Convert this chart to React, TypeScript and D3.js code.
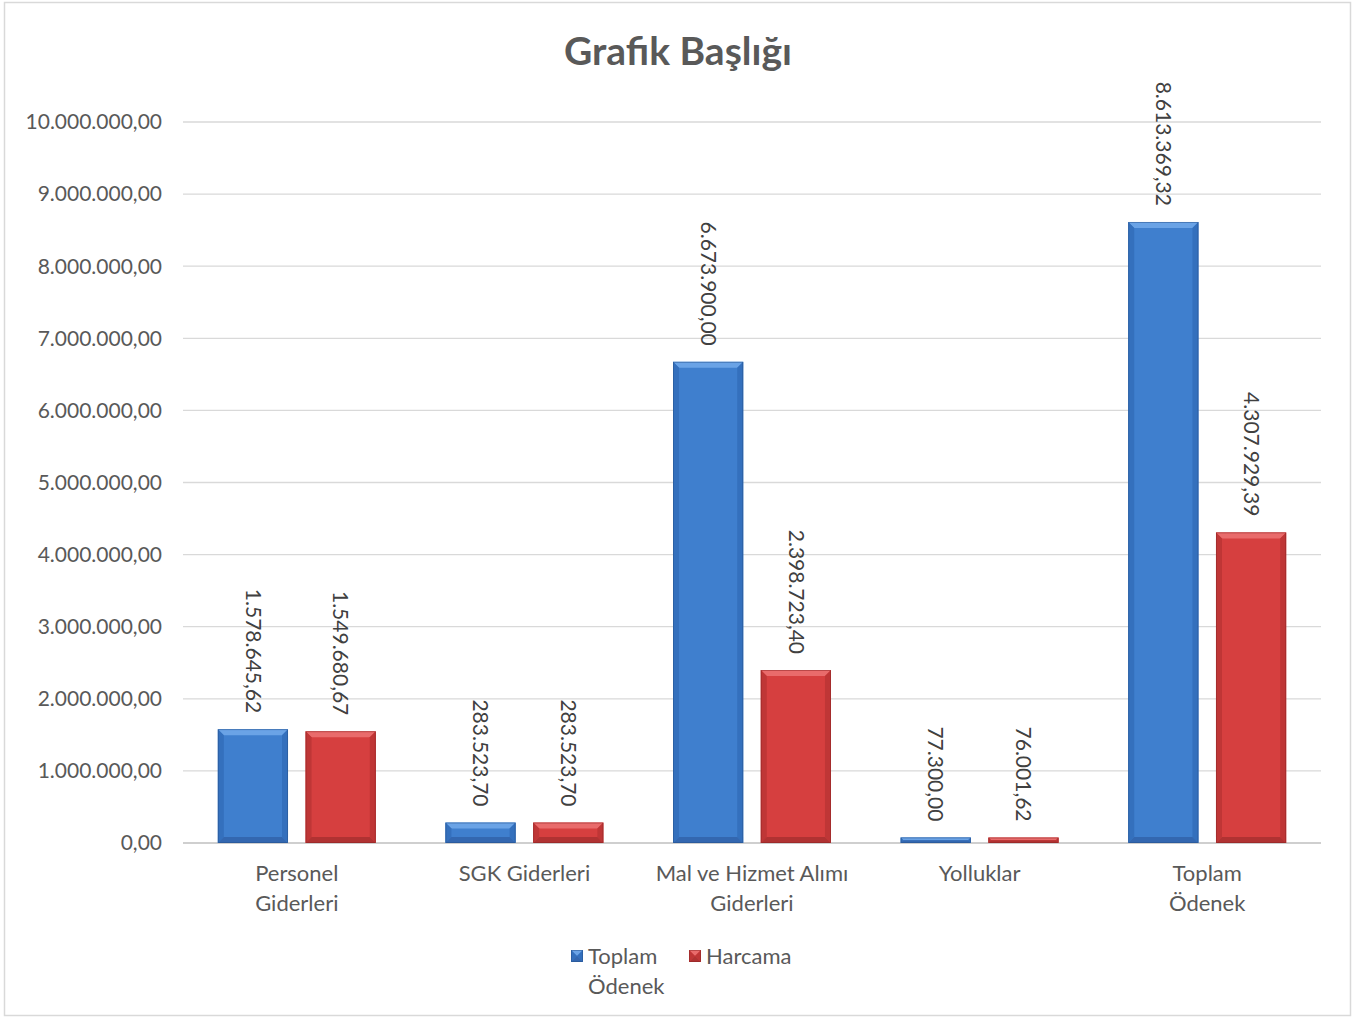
import { useMemo } from 'react';
import * as d3 from 'd3';

// Chart data
const categories = ['Personel\nGiderleri', 'SGK Giderleri', 'Mal ve Hizmet Alımı\nGiderleri', 'Yolluklar', 'Toplam\nÖdenek'];
const seriesNames = ['Toplam Ödenek', 'Harcama'];
const toplamOdenek = [1578645.62, 283523.7, 6673900.0, 77300.0, 8613369.32];
const harcama = [1549680.67, 283523.7, 2398723.4, 76001.62, 4307929.39];
const yTicks = [0, 1000000, 2000000, 3000000, 4000000, 5000000, 6000000, 7000000, 8000000, 9000000, 10000000];

const W = 1361;
const H = 1018;
const margin = { top: 122, right: 40, bottom: 175, left: 183 };

const FONT = 'Lato, "Open Sans", sans-serif';

const trLocale = d3.formatLocale({ decimal: ',', thousands: '.', grouping: [3], currency: ['', ''] });
const fmt = trLocale.format(',.2f');

const palettes = [
  { main: '#3f7fce', top: '#6aa3e6', side: '#3470bd', bottom: '#3367b0', edge: '#24508a' },
  { main: '#d63f3f', top: '#e96b6b', side: '#bf3636', bottom: '#b03232', edge: '#8a2424' },
];

function BevelRect({ x, y, w, h, p }: { x: number; y: number; w: number; h: number; p: (typeof palettes)[0] }) {
  const b = Math.min(6, h / 2, w / 2);
  const pts = (arr: number[][]) => arr.map((d) => d.join(',')).join(' ');
  return (
    <g>
      <rect x={x} y={y} width={w} height={h} fill={p.main} />
      <polygon points={pts([[x, y], [x + w, y], [x + w - b, y + b], [x + b, y + b]])} fill={p.top} />
      <polygon points={pts([[x, y], [x + b, y + b], [x + b, y + h - b], [x, y + h]])} fill={p.side} />
      <polygon points={pts([[x + w, y], [x + w - b, y + b], [x + w - b, y + h - b], [x + w, y + h]])} fill={p.side} />
      <polygon points={pts([[x, y + h], [x + b, y + h - b], [x + w - b, y + h - b], [x + w, y + h]])} fill={p.bottom} />
      <rect x={x + 0.5} y={y + 0.5} width={w - 1} height={h - 1} fill="none" stroke={p.edge} strokeWidth={0.8} opacity={0.6} />
    </g>
  );
}

export default function App() {
  const innerW = W - margin.left - margin.right;
  const innerH = H - margin.top - margin.bottom;

  const { x0, x1, y } = useMemo(() => {
    const x0 = d3.scaleBand<string>().domain(categories).range([margin.left, margin.left + innerW]).paddingInner(0.306).paddingOuter(0.153);
    const x1 = d3.scaleBand<string>().domain(seriesNames).range([0, x0.bandwidth()]).paddingInner(0.2);
    const y = d3.scaleLinear().domain([0, 10000000]).range([margin.top + innerH, margin.top]);
    return { x0, x1, y };
  }, [innerW, innerH]);

  const series = [toplamOdenek, harcama];

  return (
    <div style={{ position: 'fixed', left: 0, top: 0 }}>
      <svg width={W} height={H} style={{ display: 'block', fontFamily: FONT }}>
        <rect x={0} y={0} width={W} height={H} fill="#ffffff" />
        <rect x={4.5} y={2.5} width={1346} height={1013} fill="none" stroke="#d9d9d9" strokeWidth={1.5} />

        <text x={678} y={65} textAnchor="middle" fontSize={39} fontWeight={700} fill="#595959">
          Grafik Başlığı
        </text>

        {/* gridlines + y ticks */}
        {yTicks.map((t) => (
          <g key={t}>
            <line x1={margin.left} x2={margin.left + innerW} y1={y(t)} y2={y(t)} stroke={t === 0 ? '#bfbfbf' : '#d9d9d9'} strokeWidth={1.3} />
            <text x={162} y={y(t)} dy="0.35em" textAnchor="end" fontSize={21} fill="#595959">
              {fmt(t)}
            </text>
          </g>
        ))}

        {/* bars */}
        {categories.map((c, i) => (
          <g key={c}>
            {seriesNames.map((s, j) => {
              const v = series[j][i];
              const bx = (x0(c) || 0) + (x1(s) || 0);
              const by = y(v);
              const bh = y(0) - by;
              const bw = x1.bandwidth();
              return (
                <g key={s}>
                  <BevelRect x={bx} y={by} w={bw} h={bh} p={palettes[j]} />
                  <text
                    transform={`translate(${bx + bw / 2},${by - 16}) rotate(90)`}
                    textAnchor="end"
                    dy="0.35em"
                    fontSize={21}
                    fill="#404040"
                  >
                    {fmt(v)}
                  </text>
                </g>
              );
            })}
            <text textAnchor="middle" fontSize={22} fill="#595959">
              {c.split('\n').map((line, k) => (
                <tspan key={k} x={(x0(c) || 0) + x0.bandwidth() / 2} y={881 + k * 30}>
                  {line}
                </tspan>
              ))}
            </text>
          </g>
        ))}

        {/* legend */}
        <g>
          <BevelRect x={571} y={950} w={12} h={12} p={palettes[0]} />
          <text fontSize={22} fill="#595959">
            <tspan x={588} y={964}>Toplam</tspan>
            <tspan x={588} y={994}>Ödenek</tspan>
          </text>
          <BevelRect x={689} y={950} w={12} h={12} p={palettes[1]} />
          <text x={706} y={964} fontSize={22} fill="#595959">
            Harcama
          </text>
        </g>
      </svg>
    </div>
  );
}
